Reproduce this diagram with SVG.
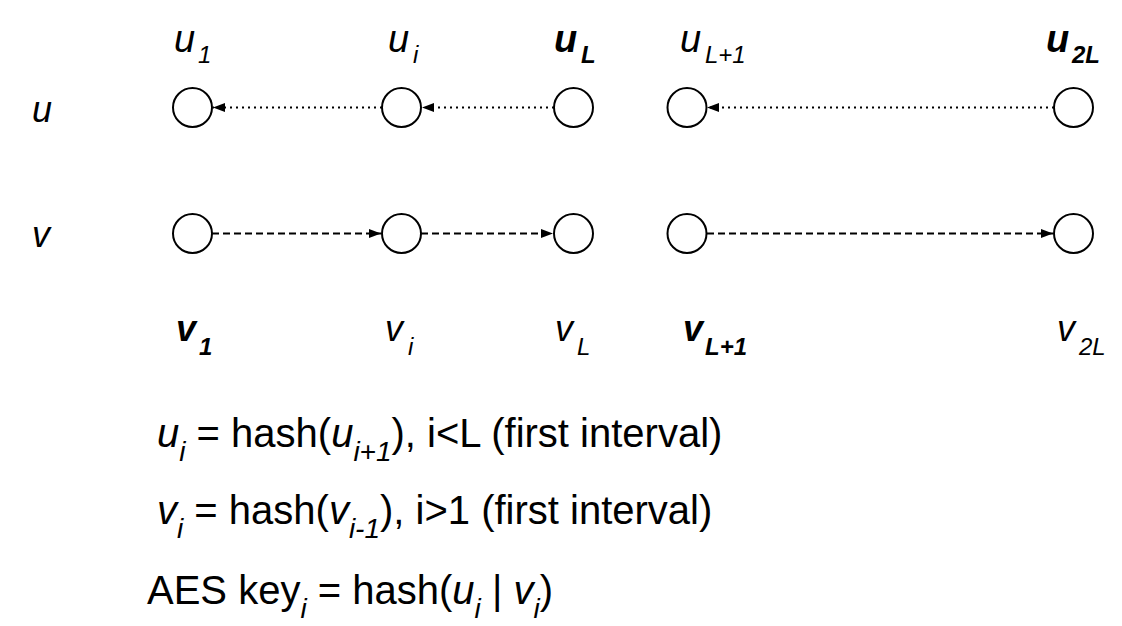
<svg xmlns="http://www.w3.org/2000/svg" width="1122" height="626" viewBox="0 0 1122 626">
<defs>
<style>
.n{fill:none;stroke:#000;stroke-width:2}
.dot{fill:none;stroke:#000;stroke-width:2;stroke-dasharray:2 4}
.dash{fill:none;stroke:#000;stroke-width:2;stroke-dasharray:7 4}
.t{font-family:"Liberation Sans",Arial,sans-serif;fill:#000}
.lab{font-size:36px;font-style:italic}
.top{font-size:38px}
.b{font-weight:bold}
.sub{font-size:24px}
.eq{font-size:40px}
.esub{font-size:28px}
</style>
<marker id="ah" viewBox="0 0 12 9" refX="12" refY="4.5" markerWidth="12" markerHeight="9" markerUnits="userSpaceOnUse" orient="auto"><path d="M0,0 L12,4.5 L0,9 z" fill="#000"/></marker>
</defs>
<rect width="1122" height="626" fill="#fff"/>
<g id="row-labels" class="t lab">
<text x="32" y="122">u</text>
<text x="32" y="247">v</text>
</g>
<g id="connectors">
<line class="dot" x1="382" y1="107.5" x2="213" y2="107.5" marker-end="url(#ah)"/>
<line class="dot" x1="554" y1="107.5" x2="422" y2="107.5" marker-end="url(#ah)"/>
<line class="dot" x1="1054" y1="107.5" x2="707" y2="107.5" marker-end="url(#ah)"/>
<line class="dash" x1="212" y1="233.5" x2="381" y2="233.5" marker-end="url(#ah)"/>
<line class="dash" x1="421" y1="233.5" x2="553" y2="233.5" marker-end="url(#ah)"/>
<line class="dash" x1="707" y1="233.5" x2="1053" y2="233.5" marker-end="url(#ah)"/>
</g>
<g id="u1"><circle class="n" cx="192.5" cy="107.5" r="19.5"/><text class="t lab top" x="174" y="52">u<tspan class="sub" x="198" y="63">1</tspan></text></g>
<g id="ui"><circle class="n" cx="401.5" cy="107.5" r="19.5"/><text class="t lab top" x="388" y="52">u<tspan class="sub" x="413" y="63">i</tspan></text></g>
<g id="uL"><circle class="n" cx="573.5" cy="107.5" r="19.5"/><text class="t lab top b" x="554" y="52">u<tspan class="sub" x="581" y="63">L</tspan></text></g>
<g id="uL1"><circle class="n" cx="687" cy="107.5" r="19.5"/><text class="t lab top" x="680" y="52">u<tspan class="sub" x="705" y="63">L+1</tspan></text></g>
<g id="u2L"><circle class="n" cx="1073.5" cy="107.5" r="19.5"/><text class="t lab top b" x="1046" y="52">u<tspan class="sub" x="1072" y="63">2L</tspan></text></g>
<g id="v1"><circle class="n" cx="192.5" cy="233.5" r="19.5"/><text class="t lab b" x="176" y="341">v<tspan class="sub" x="199" y="355">1</tspan></text></g>
<g id="vi"><circle class="n" cx="401.5" cy="233.5" r="19.5"/><text class="t lab" x="385" y="341">v<tspan class="sub" x="408" y="355">i</tspan></text></g>
<g id="vL"><circle class="n" cx="573.5" cy="233.5" r="19.5"/><text class="t lab" x="555" y="341">v<tspan class="sub" x="577" y="355">L</tspan></text></g>
<g id="vL1"><circle class="n" cx="687" cy="233.5" r="19.5"/><text class="t lab b" x="683" y="341">v<tspan class="sub" x="705" y="355">L+1</tspan></text></g>
<g id="v2L"><circle class="n" cx="1073.5" cy="233.5" r="19.5"/><text class="t lab" x="1057" y="341">v<tspan class="sub" x="1079" y="355">2L</tspan></text></g>
<g id="equations" class="t eq">
<text x="157" y="447"><tspan font-style="italic">u</tspan><tspan class="esub" font-style="italic" dy="14">i</tspan><tspan dy="-14"> = hash(</tspan><tspan font-style="italic">u</tspan><tspan class="esub" font-style="italic" dy="14">i+1</tspan><tspan dy="-14">), i&lt;L (first interval)</tspan></text>
<text x="157" y="524"><tspan font-style="italic">v</tspan><tspan class="esub" font-style="italic" dy="14">i</tspan><tspan dy="-14"> = hash(</tspan><tspan font-style="italic">v</tspan><tspan class="esub" font-style="italic" dy="14">i-1</tspan><tspan dy="-14">), i&gt;1 (first interval)</tspan></text>
<text x="147" y="604">AES key<tspan class="esub" font-style="italic" dy="14">i</tspan><tspan dy="-14"> = hash(</tspan><tspan font-style="italic">u</tspan><tspan class="esub" font-style="italic" dy="14">i</tspan><tspan dy="-14"> | </tspan><tspan font-style="italic">v</tspan><tspan class="esub" font-style="italic" dy="14">i</tspan><tspan dy="-14">)</tspan></text>
</g>
</svg>
